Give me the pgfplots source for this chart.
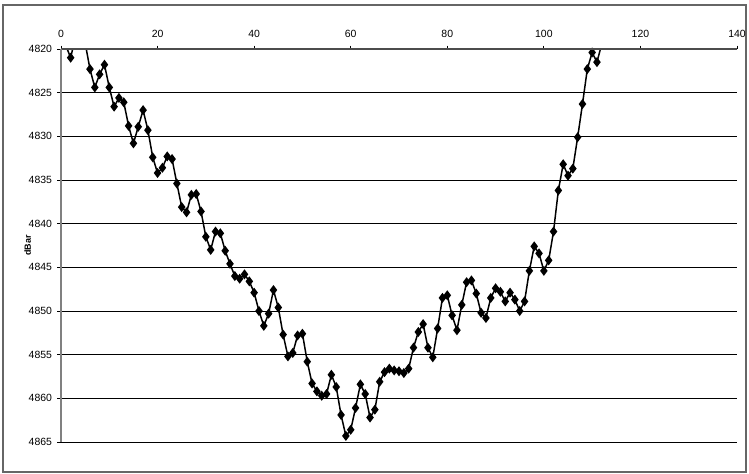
\documentclass[border=0pt]{standalone}
\usepackage{fontspec}
\setmainfont{Liberation Sans}
\usepackage{pgfplots}
\pgfplotsset{compat=1.18}
\pgfplotstableread{
x y
1 4819.6
2 4821.0
3 4818.6
4 4817.5
5 4819.3
6 4822.3
7 4824.4
8 4822.9
9 4821.8
10 4824.4
11 4826.6
12 4825.6
13 4826.1
14 4828.8
15 4830.8
16 4828.9
17 4827.0
18 4829.3
19 4832.4
20 4834.2
21 4833.6
22 4832.3
23 4832.6
24 4835.4
25 4838.1
26 4838.7
27 4836.7
28 4836.6
29 4838.6
30 4841.5
31 4843.0
32 4840.9
33 4841.1
34 4843.1
35 4844.6
36 4846.0
37 4846.3
38 4845.8
39 4846.6
40 4847.9
41 4850.0
42 4851.7
43 4850.3
44 4847.6
45 4849.6
46 4852.7
47 4855.2
48 4854.8
49 4852.8
50 4852.6
51 4855.8
52 4858.3
53 4859.2
54 4859.7
55 4859.5
56 4857.3
57 4858.7
58 4861.9
59 4864.3
60 4863.6
61 4861.1
62 4858.4
63 4859.5
64 4862.2
65 4861.3
66 4858.1
67 4857.0
68 4856.6
69 4856.8
70 4856.9
71 4857.1
72 4856.6
73 4854.2
74 4852.4
75 4851.5
76 4854.2
77 4855.3
78 4852.0
79 4848.5
80 4848.2
81 4850.5
82 4852.2
83 4849.3
84 4846.7
85 4846.5
86 4848.0
87 4850.2
88 4850.8
89 4848.5
90 4847.4
91 4847.8
92 4848.9
93 4847.9
94 4848.7
95 4850.0
96 4848.9
97 4845.4
98 4842.6
99 4843.4
100 4845.4
101 4844.2
102 4840.9
103 4836.2
104 4833.2
105 4834.5
106 4833.7
107 4830.1
108 4826.3
109 4822.3
110 4820.4
111 4821.5
112 4819.4
}\datatable
\begin{document}
\begin{tikzpicture}
\path[use as bounding box] (0,0) rectangle (749bp,474bp);
\draw[line width=1.5bp, draw=black!60] (3bp,2bp) rectangle (746bp,469bp);
\begin{axis}[
  name=ax,
  at={(61bp,32bp)}, anchor=south west,
  scale only axis, width=676bp, height=393bp,
  xmin=0, xmax=140, ymin=4820, ymax=4865, y dir=reverse,
  xtick={0,20,...,140}, ytick={4820,4825,...,4865},
  xtick pos=right, ytick pos=left,
  xticklabel pos=right, yticklabel pos=left,
  tick align=outside, major tick length=3.5bp,
  every tick/.style={black, line width=0.8bp},
  axis line style={draw=none},
  ymajorgrids, grid style={black, line width=0.8bp},
  /pgf/number format/.cd, 1000 sep={}, assume math mode=true,
  /pgfplots/.cd,
  tick label style={font=\fontsize{10.5}{12}\selectfont},
  xticklabel style={yshift=4bp},
  yticklabel style={xshift=-2bp},
  ylabel={\textbf{dBar}},
  ylabel shift=-9bp,
  ylabel style={font=\fontsize{9}{11}\selectfont},
]
\addplot[black, line width=1.5bp, mark=diamond*, mark size=3.8bp,
  mark options={solid, fill=black}] table[x=x, y=y] {\datatable};
\end{axis}
\draw[black!70, line width=1.5bp] (ax.north west) -- (ax.north east);
\draw[black!50, line width=2bp] (ax.north west) -- (ax.south west);
\end{tikzpicture}
\end{document}
